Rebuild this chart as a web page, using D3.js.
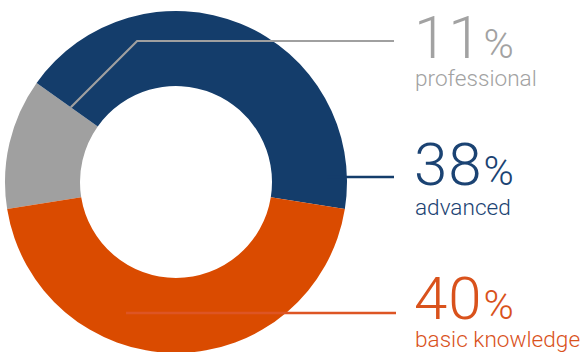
<!DOCTYPE html>
<html>
<head>
<meta charset="utf-8">
<script src="https://cdn.jsdelivr.net/npm/d3@7"></script>
<style>
  html, body { margin: 0; padding: 0; background: #fff; }
  svg { display: block; }
  text { font-family: Roboto, "Liberation Sans", Arial, sans-serif; font-weight: 300; }
</style>
</head>
<body>
<svg id="chart" width="588" height="352"></svg>
<script>
// Skill levels and their shares (percent)
const categories = ["professional", "advanced", "basic knowledge"];
const values = [11, 38, 40];
const colors = ["#a0a0a0", "#143d6b", "#da4b00"];
const textColors = ["#a2a2a2", "#1b4373", "#d9521c"];

const W = 588, H = 352;
const cx = 176, cy = 182;
const outerR = 171, innerR = 96;

const svg = d3.select("#chart");
const g = svg.append("g").attr("transform", `translate(${cx},${cy})`);

// Keep the "basic knowledge" slice centred on the bottom of the ring
const total = d3.sum(values);
const basicSpan = values[2] / total * 2 * Math.PI;
const start = Math.PI + basicSpan / 2;

const pie = d3.pie().sort(null).value(d => d)
  .startAngle(start).endAngle(start + 2 * Math.PI);
const arcs = pie(values);
const arc = d3.arc().innerRadius(innerR).outerRadius(outerR);

g.selectAll("path.slice")
  .data(arcs)
  .join("path")
  .attr("class", "slice")
  .attr("d", arc)
  .attr("fill", (d, i) => colors[i]);

// Label block layout (left edge of text, line end, number baseline)
const labelX = 414;
const lineEndX = 394;
const rows = [
  { lineY: 41, numY: 58, nameY: 86 },
  { lineY: 177, numY: 185, nameY: 215 },
  { lineY: 313, numY: 319, nameY: 347 }
];

const pt = (a, r) => [cx + r * Math.sin(a), cy - r * Math.cos(a)];

// professional: leader leaves the slice edge diagonally, then runs right
{
  const a = arcs[0].endAngle;
  const p0 = pt(a, 129);
  const elbow = [p0[0] + (p0[1] - rows[0].lineY), rows[0].lineY];
  svg.append("polyline")
    .attr("points", [p0, elbow, [lineEndX, rows[0].lineY]].map(p => p.join(",")).join(" "))
    .attr("fill", "none").attr("stroke", colors[0]).attr("stroke-width", 2.2);
}
// advanced: straight leader from the ring's right side
svg.append("line")
  .attr("x1", cx + outerR - 20).attr("x2", lineEndX)
  .attr("y1", rows[1].lineY).attr("y2", rows[1].lineY)
  .attr("stroke", colors[1]).attr("stroke-width", 2.5);
// basic knowledge: leader starting inside the slice
svg.append("line")
  .attr("x1", 126).attr("x2", lineEndX + 2)
  .attr("y1", rows[2].lineY).attr("y2", rows[2].lineY)
  .attr("stroke", "#dd5524").attr("stroke-width", 2.5);

// Percentages and names
rows.forEach((r, i) => {
  const t = svg.append("text")
    .attr("x", labelX).attr("y", r.numY)
    .attr("fill", textColors[i]);
  t.append("tspan").attr("font-size", 60).attr("letter-spacing", 1).text(values[i]);
  t.append("tspan").attr("font-size", 41).attr("dx", 1).text("%");

  svg.append("text")
    .attr("x", labelX + 1).attr("y", r.nameY)
    .attr("fill", textColors[i])
    .attr("font-size", 22.6)
    .text(categories[i]);
});
</script>
</body>
</html>
